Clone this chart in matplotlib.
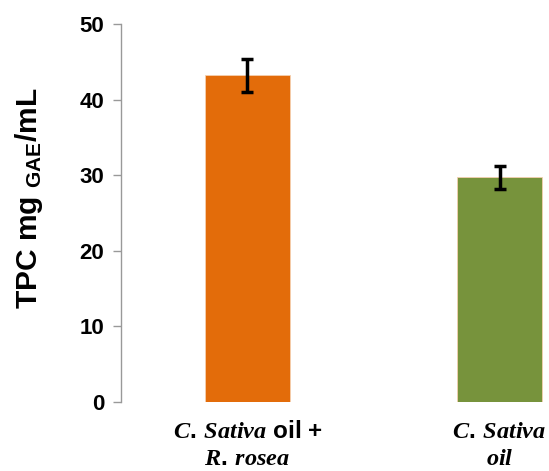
import numpy as np
import matplotlib.pyplot as plt

plt.rcParams['font.family'] = 'Liberation Sans'
plt.rcParams['font.weight'] = 'bold'
plt.rcParams['mathtext.fontset'] = 'custom'
plt.rcParams['mathtext.rm'] = 'Liberation Sans:bold'
plt.rcParams['mathtext.it'] = 'Liberation Serif:bold:italic'

labels = [r'$\mathit{C.\:Sativa}$ oil +' + '\n' + r'$\mathit{R.\:rosea}$',
          r'$\mathit{C.\:Sativa}$' + '\n' + r'$\mathit{oil}$']
values = [43.2, 29.7]
errors = [2.2, 1.5]
colors = ['#E36C0A', '#77933C']

fig = plt.figure(figsize=(5.49, 4.71), dpi=100)
ax = fig.add_axes([0.220, 0.1465, 0.780, 0.8025])

x = np.arange(len(values))
ax.bar(x, values, width=0.337, color=colors, edgecolor='#f5d0b0', linewidth=0.6)
ax.errorbar(x, values, yerr=errors, fmt='none', ecolor='black',
            elinewidth=2.5, capsize=4, capthick=2.5)

ax.set_xlim(-0.502, 1.196)
ax.set_ylim(0, 50)
ax.set_yticks([0, 10, 20, 30, 40, 50])
ax.set_xticks(x)
ax.set_xticklabels(labels, fontsize=17.5, linespacing=1.2)
ax.tick_params(axis='x', length=0, pad=13)
ax.tick_params(axis='y', length=6, width=1, color='#999999', labelsize=16, pad=6)

for s in ['top', 'right', 'bottom']:
    ax.spines[s].set_visible(False)
ax.spines['left'].set_color('#999999')
ax.spines['left'].set_linewidth(1)

ax.set_ylabel(r'TPC mg $_{\mathrm{GAE}}$/mL', fontsize=21.5, fontweight='bold')
ax.yaxis.set_label_coords(-0.178, 0.54)

fig.savefig('out.png', dpi=100)
